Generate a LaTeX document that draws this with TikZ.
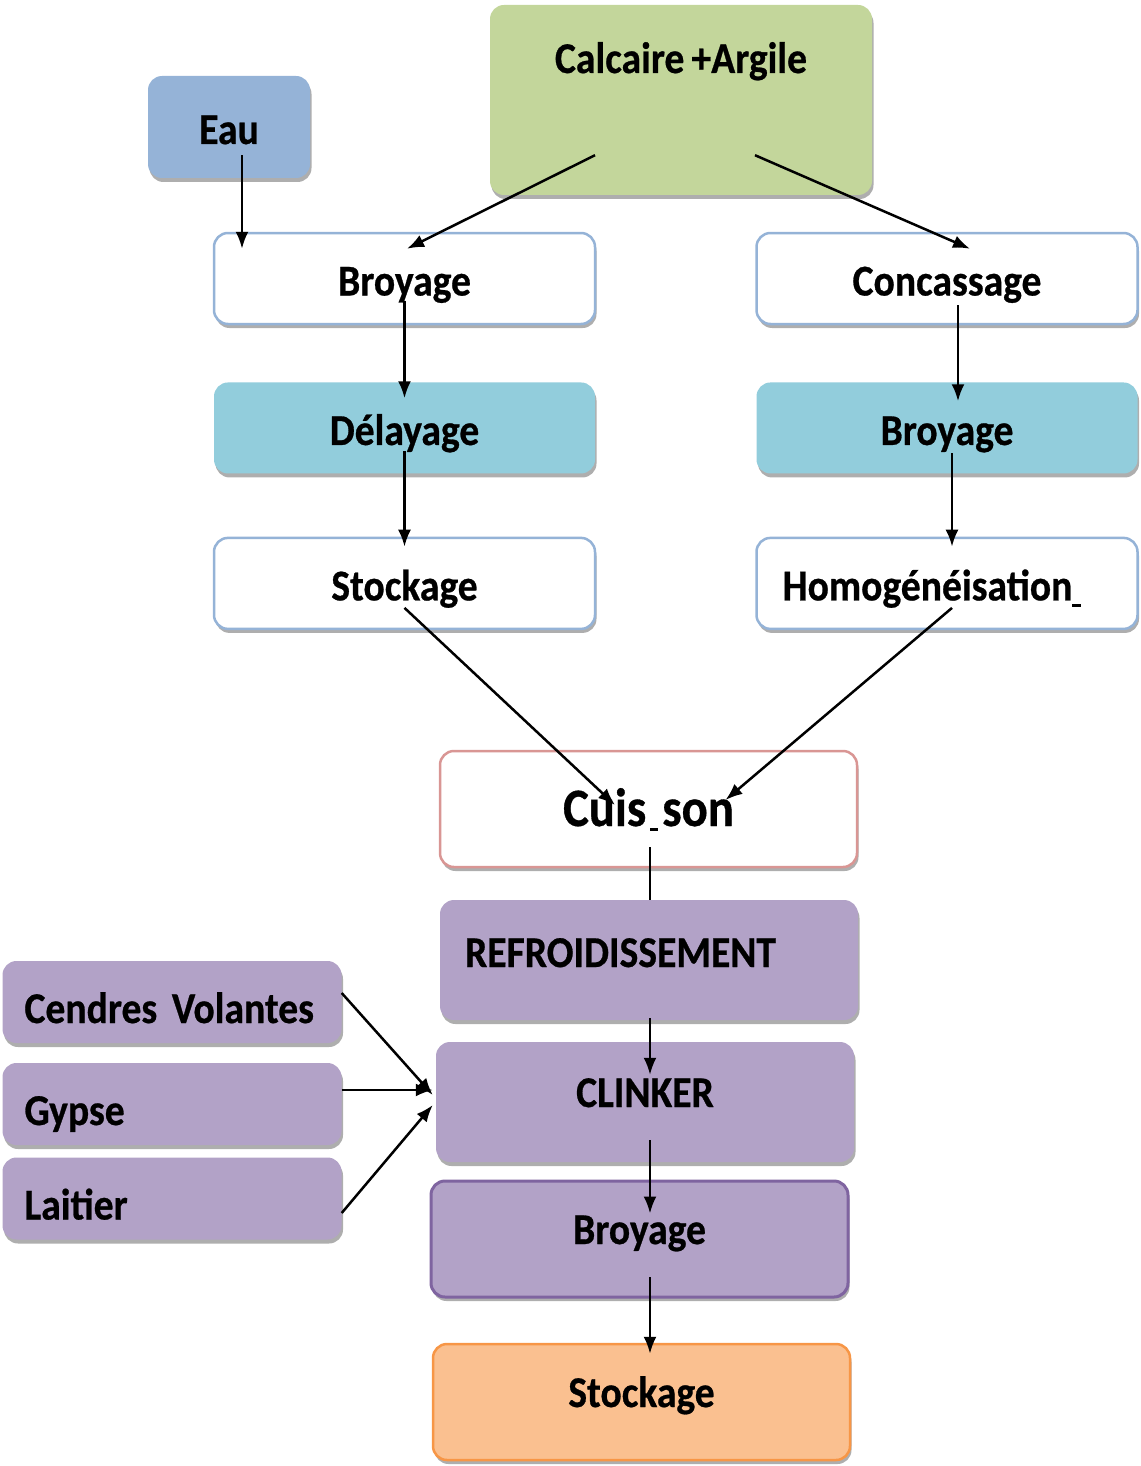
\documentclass[tikz,border=0pt]{standalone}
\usepackage{fontspec}
\setmainfont{Carlito}[FakeStretch=0.9, WordSpace=0.8, BoldFeatures={FakeBold=0.6}]
\usetikzlibrary{arrows.meta,shapes,positioning}
\usetikzlibrary{shadows}
\definecolor{eaublue}{HTML}{95B3D7}
\definecolor{argile}{HTML}{C3D69B}
\definecolor{aqua}{HTML}{92CDDC}
\definecolor{lilac}{HTML}{B2A2C7}
\definecolor{lilacdark}{HTML}{7F64A0}
\definecolor{peach}{HTML}{FAC090}
\definecolor{orangeline}{HTML}{F79646}
\definecolor{cuispink}{HTML}{D99694}
\tikzstyle{box} = [
  rectangle, rounded corners=14pt, inner sep=0pt, text centered,
  font=\fontsize{44}{50}\selectfont\bfseries, text height=40pt, text depth=6pt,
  drop shadow={shadow xshift=1.5pt, shadow yshift=-4pt, fill=black!45, opacity=.7}
]
\tikzstyle{whitebox} = [box, draw=eaublue, line width=2.5pt, fill=white, minimum width=381pt, minimum height=91pt]
\tikzstyle{aquabox} = [box, fill=aqua, minimum width=381pt, minimum height=91pt]
\tikzstyle{purplebox} = [box, fill=lilac, minimum width=418pt, minimum height=120pt]
\tikzstyle{sidebox} = [
  box, fill=lilac, minimum width=339pt, minimum height=82pt,
  text width=295pt, align=left, text height=62pt, text depth=20pt
]
\tikzstyle{flow} = [line width=2.5pt, -{Latex[length=17pt,width=13pt]}]

\begin{document}
\begin{tikzpicture}[x=1pt, y=-1pt]
    \useasboundingbox (0,0) rectangle (1140,1466);

    \node[box, fill=eaublue, minimum width=162pt, minimum height=102pt] (eau) at (229,127) {Eau};
    \node[box, fill=argile, minimum width=382pt, minimum height=190pt, text height=68pt, text depth=122pt] (calc) at (681,100) {Calcaire +Argile};

    \node[whitebox] (broyA) at (404.5,278.5) {Broyage};
    \node[aquabox, below=57pt of broyA] (delay) {Délayage};
    \node[whitebox, below=63pt of delay] (stockA) {Stockage};

    \node[whitebox] (conc) at (947,278.5) {Concassage};
    \node[aquabox, below=57pt of conc] (broyB) {Broyage};
    \node[whitebox, below=63pt of broyB] (homog) {Homogénéisation\rule[-7pt]{9pt}{3pt}\hspace*{30pt}};

    \node[box, draw=cuispink, line width=2.5pt, fill=white, minimum width=417pt, minimum height=116pt,
      font=\fontsize{54}{60}\selectfont\bfseries] (cuis) at (648.5,809) {Cuis\hspace{4pt}\rule[-5pt]{8pt}{3pt}\hspace{4pt}son};
    \node[purplebox, text height=67pt, text depth=53pt, text width=368pt, align=left] (refr) at (649,960) {REFROIDISSEMENT};
    \node[purplebox, text height=30pt, text depth=20pt] (clink) at (645,1102) {CLINKER};
    \node[purplebox, draw=lilacdark, line width=3pt, minimum width=417pt, minimum height=116pt,
      text height=30pt, text depth=20pt] (broyC) at (639.5,1239) {Broyage};
    \node[box, fill=peach, draw=orangeline, line width=2.5pt, minimum width=417pt, minimum height=116pt,
      text height=30pt, text depth=20pt] (stockC) at (641.5,1402) {Stockage};

    \node[sidebox] (cendres) at (172,1002) {Cendres Volantes};
    \node[sidebox] (gypse) at (172,1104) {Gypse};
    \node[sidebox] (laitier) at (172,1198.5) {Laitier};

    \draw[flow] ([xshift=13pt,yshift=23pt]eau.south) -- ([xshift=-162.5pt,yshift=-17pt]broyA.north);
    \draw[flow] ([xshift=-86pt,yshift=40pt]calc.south) -- ([xshift=2.5pt,yshift=-17pt]broyA.north);
    \draw[flow] ([xshift=74pt,yshift=40pt]calc.south) -- ([xshift=23pt,yshift=-17pt]conc.north);

    \draw[flow] ([yshift=-22pt]broyA.center) -- ([yshift=-16pt]delay.north);
    \draw[flow] ([yshift=-23.5pt]delay.center) -- ([yshift=-10pt]stockA.north);
    \draw[flow] ([xshift=11pt,yshift=-26.5pt]conc.center) -- ([xshift=11pt,yshift=-19pt]broyB.north);
    \draw[flow] ([xshift=5pt,yshift=-25.5pt]broyB.center) -- ([xshift=5pt,yshift=-10pt]homog.north);

    \draw[flow] ([yshift=-24.5pt]stockA.center) -- ([xshift=-33.5pt,yshift=4pt]cuis.center);
    \draw[flow] ([xshift=5pt,yshift=-24.5pt]homog.center) -- ([xshift=77pt,yshift=9pt]cuis.center);

    \draw[line width=2.5pt] ([xshift=1.5pt,yshift=-38pt]cuis.center) -- ([xshift=1pt]refr.north);
    \draw[flow] ([xshift=1pt,yshift=2pt]refr.south) -- ([xshift=5pt,yshift=-33pt]clink.north);
    \draw[flow] ([xshift=5pt,yshift=-38pt]clink.center) -- ([xshift=10.5pt,yshift=-34pt]broyC.north);
    \draw[flow] ([xshift=10.5pt,yshift=-38pt]broyC.center) -- ([xshift=8.5pt,yshift=-11pt]stockC.north);

    \draw[flow] ([yshift=9pt]cendres.east) -- ([xshift=-3pt,yshift=7pt]clink.west);
    \draw[flow] ([yshift=14pt]gypse.east) -- ([xshift=-3pt,yshift=12pt]clink.west);
    \draw[flow] ([yshift=-14.5pt]laitier.east) -- ([xshift=-3pt,yshift=-3pt]clink.west);
\end{tikzpicture}
\end{document}
